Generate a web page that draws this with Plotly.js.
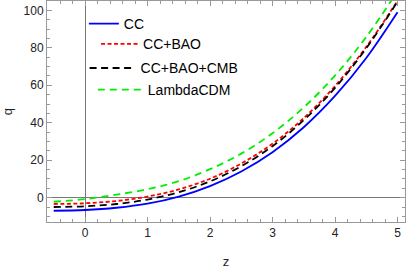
<!DOCTYPE html>
<html>
<head>
<meta charset="utf-8">
<script src="https://cdn.plot.ly/plotly-3.0.1.min.js"></script>
<style>html,body{margin:0;padding:0;background:#fff;}#chart{width:407px;height:269px;}</style>
</head>
<body>
<div id="chart"></div>
<script>
var z = [-0.5, 0, 0.5, 1, 1.5, 2, 2.5, 3, 3.5, 4, 4.5, 5];
var qCC = [-7.0, -6.6, -5.4, -3.2, 0.6, 6.2, 14.0, 24.3, 37.6, 54.3, 74.6, 99.0];
var qCCBAO = [-3.4, -3.0, -1.8, 0.6, 4.4, 10.1, 18.2, 28.8, 42.5, 59.6, 80.5, 105.1];
var qCCBAOCMB = [-5.0, -4.6, -3.4, -1.0, 2.9, 8.7, 16.8, 27.5, 41.4, 58.6, 79.8, 104.6];
var qLCDM = [-2.2, -0.8, 1.6, 4.5, 8.8, 15.2, 23.5, 34.4, 48.2, 65.2, 85.8, 110.2];
var names = ["CC", "CC+BAO", "CC+BAO+CMB", "LambdaCDM"];
var xTicks = [0, 1, 2, 3, 4, 5];
var yTicks = [0, 20, 40, 60, 80, 100];

var traces = [
  {x: z, y: qCC, name: names[0], mode: "lines", line: {color: "#0000ff", width: 1.8, shape: "spline"}, legend: "legend"},
  {x: z, y: qCCBAO, name: names[1], mode: "lines", line: {color: "#ff0000", width: 1.8, dash: "4px,2.5px", shape: "spline"}, legend: "legend2"},
  {x: z, y: qCCBAOCMB, name: names[2], mode: "lines", line: {color: "#000000", width: 1.8, dash: "7px,4.5px", shape: "spline"}, legend: "legend3"},
  {x: z, y: qLCDM, name: names[3], mode: "lines", line: {color: "#00ee00", width: 1.8, dash: "7px,5px", shape: "spline"}, legend: "legend4"}
];

var fnt = {family: "Liberation Sans, Arial, sans-serif", size: 14, color: "#000"};
function leg(x, y, w) {
  return {x: x, y: y, xanchor: "left", yanchor: "middle", bgcolor: "rgba(0,0,0,0)", borderwidth: 0, font: fnt, itemwidth: w};
}

var axisCommon = {
  showgrid: false,
  zeroline: true,
  zerolinecolor: "#777",
  zerolinewidth: 1,
  showline: true,
  linecolor: "#999",
  linewidth: 1,
  mirror: "allticks",
  ticks: "inside",
  ticklen: 5,
  tickcolor: "#999",
  tickwidth: 1,
  tickfont: {family: "Liberation Sans, Arial, sans-serif", size: 12, color: "#222"},
  fixedrange: true
};

var layout = {
  width: 407, height: 269,
  margin: {l: 47, r: 2, t: 1, b: 47},
  paper_bgcolor: "#fff", plot_bgcolor: "#fff",
  showlegend: true,
  xaxis: Object.assign({}, axisCommon, {
    range: [-0.608, 5.12],
    tickmode: "array", tickvals: xTicks, ticktext: xTicks.map(String),
    minor: {dtick: 0.2, tick0: 0, ticks: "inside", ticklen: 3, tickcolor: "#999"},
    title: {text: "z", font: {family: "Liberation Sans, Arial, sans-serif", size: 13, color: "#222"}, standoff: 18}
  }),
  yaxis: Object.assign({}, axisCommon, {
    range: [-13, 105],
    tickmode: "array", tickvals: yTicks, ticktext: yTicks.map(String),
    minor: {dtick: 5, tick0: 0, ticks: "inside", ticklen: 3, tickcolor: "#999"},
    title: {text: "q", font: {family: "Liberation Sans, Arial, sans-serif", size: 13, color: "#222"}, standoff: 14}
  }),
  legend: leg(0.103, 0.896, 30),
  legend2: leg(0.137, 0.804, 37),
  legend3: leg(0.105, 0.695, 46),
  legend4: leg(0.128, 0.597, 45)
};

Plotly.newPlot("chart", traces, layout, {displayModeBar: false, staticPlot: true});
</script>
</body>
</html>
